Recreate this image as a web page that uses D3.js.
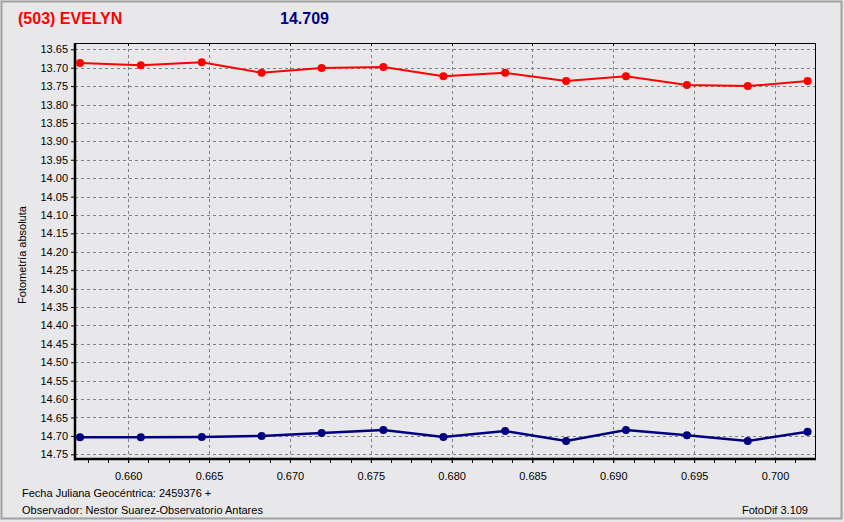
<!DOCTYPE html>
<html><head><meta charset="utf-8">
<script src="https://cdn.jsdelivr.net/npm/d3@7"></script>
<style>
html,body{margin:0;padding:0;background:#e8e8ea;}
svg{display:block;font-family:"Liberation Sans",Arial,sans-serif;}
</style></head>
<body><svg id="c" width="844" height="522"></svg>
<script>
// ---- data ----
const title = "(503) EVELYN";
const titleValue = "14.709";
const jd = [0.65702, 0.66078, 0.66455, 0.66825, 0.67196, 0.67578, 0.67949, 0.68331, 0.68708, 0.69078, 0.69455, 0.69831, 0.70201];
const redSeries = [13.687, 13.693, 13.685, 13.714, 13.701, 13.698, 13.723, 13.714, 13.736, 13.723, 13.747, 13.750, 13.736];
const blueSeries = [14.704, 14.704, 14.703, 14.700, 14.692, 14.684, 14.703, 14.687, 14.714, 14.684, 14.698, 14.714, 14.689];
const xTicks = [0.660, 0.665, 0.670, 0.675, 0.680, 0.685, 0.690, 0.695, 0.700];
const yTicks = d3.range(0, 23).map(i => +(13.65 + i * 0.05).toFixed(2));
const yAxisTitle = "Fotometría absoluta";
const footer1 = "Fecha Juliana Geocéntrica: 2459376 +";
const footer2 = "Observador: Nestor Suarez-Observatorio Antares";
const footer3 = "FotoDif 3.109";

// ---- layout ----
const svg = d3.select("#c");
const L = 75, R = 815, T = 43, B = 459;
const x = d3.scaleLinear().domain([0.65671, 0.70247]).range([L, R]);
const y = d3.scaleLinear().domain([13.6329, 14.7628]).range([T, B]);

svg.append("rect").attr("x", 0).attr("y", 0).attr("width", 844).attr("height", 522).attr("fill", "#e8e8ea");
svg.append("rect").attr("x", 1.5).attr("y", 1.5).attr("width", 840).attr("height", 517)
  .attr("fill", "none").attr("stroke", "#a0a0a0").attr("stroke-width", 2);

// gridlines
const g = svg.append("g");
g.selectAll("line.hy").data(yTicks).join("line")
  .attr("x1", L).attr("x2", R)
  .attr("y1", d => Math.round(y(d)) + 0.5).attr("y2", d => Math.round(y(d)) + 0.5)
  .attr("stroke", "#808080").attr("stroke-dasharray", "3,3");
g.selectAll("line.vx").data(xTicks).join("line")
  .attr("y1", T).attr("y2", B)
  .attr("x1", d => Math.round(x(d)) + 0.5).attr("x2", d => Math.round(x(d)) + 0.5)
  .attr("stroke", "#808080").attr("stroke-dasharray", "3,3");

// frame
svg.append("line").attr("x1", L).attr("x2", R).attr("y1", T + 0.5).attr("y2", T + 0.5).attr("stroke", "#000");
svg.append("line").attr("x1", R + 0.5).attr("x2", R + 0.5).attr("y1", T).attr("y2", B).attr("stroke", "#000");

// axes
const xAxis = d3.axisBottom(x).tickValues(xTicks).tickFormat(d3.format(".3f")).tickSize(4).tickPadding(9);
const gx = svg.append("g").attr("transform", `translate(0,${B})`).call(xAxis);
const minor = d3.range(0, 40).map(i => 0.6575 + i * 0.00125).filter(v => v < 0.7025 && v > 0.6567);
gx.selectAll("line.minor").data(minor).join("line").attr("class", "minor")
  .attr("x1", d => Math.round(x(d)) + 0.5).attr("x2", d => Math.round(x(d)) + 0.5)
  .attr("y1", 0).attr("y2", 4).attr("stroke", "#000");
// top major ticks
svg.selectAll("line.tt").data(xTicks).join("line").attr("class", "tt")
  .attr("x1", d => Math.round(x(d)) + 0.5).attr("x2", d => Math.round(x(d)) + 0.5)
  .attr("y1", T).attr("y2", T + 3).attr("stroke", "#000");

const yAxis = d3.axisLeft(y).tickValues(yTicks).tickFormat(d3.format(".2f")).tickSize(4).tickPadding(3);
const gy = svg.append("g").attr("transform", `translate(${L},0)`).call(yAxis);

[gx, gy].forEach(a => {
  a.select(".domain").remove();
  a.selectAll("text").attr("font-family", "Liberation Sans, Arial, sans-serif").attr("font-size", 11).attr("fill", "#000");
});
svg.append("line").attr("x1", L).attr("x2", L).attr("y1", T).attr("y2", B + 1.5).attr("stroke", "#000").attr("stroke-width", 2.5);
svg.append("line").attr("x1", L).attr("x2", R + 1).attr("y1", B).attr("y2", B).attr("stroke", "#000").attr("stroke-width", 2.5);

// series
function drawSeries(vals, color, w) {
  const pts = jd.map((d, i) => [d, vals[i]]);
  svg.append("path").datum(pts)
    .attr("d", d3.line().x(d => x(d[0])).y(d => y(d[1])))
    .attr("fill", "none").attr("stroke", color).attr("stroke-width", w);
  svg.append("g").selectAll("circle").data(pts).join("circle")
    .attr("cx", d => x(d[0])).attr("cy", d => y(d[1])).attr("r", 4).attr("fill", color);
}
drawSeries(redSeries, "#ff0000", 2);
drawSeries(blueSeries, "#000080", 2.5);

// titles
svg.append("text").attr("x", 18).attr("y", 24).attr("font-size", 16).attr("font-weight", "bold")
  .attr("fill", "#ff0000").text(title);
svg.append("text").attr("x", 280).attr("y", 24).attr("font-size", 16).attr("font-weight", "bold")
  .attr("fill", "#000080").text(titleValue);
svg.append("text").attr("transform", "translate(26,255) rotate(-90)").attr("text-anchor", "middle")
  .attr("font-size", 11).attr("fill", "#000").text(yAxisTitle);
svg.append("text").attr("x", 22).attr("y", 497).attr("font-size", 11).attr("fill", "#000").text(footer1);
svg.append("text").attr("x", 22).attr("y", 514).attr("font-size", 11).attr("fill", "#000").text(footer2);
svg.append("text").attr("x", 808).attr("y", 514).attr("text-anchor", "end").attr("font-size", 11).attr("fill", "#000").text(footer3);
</script></body></html>
